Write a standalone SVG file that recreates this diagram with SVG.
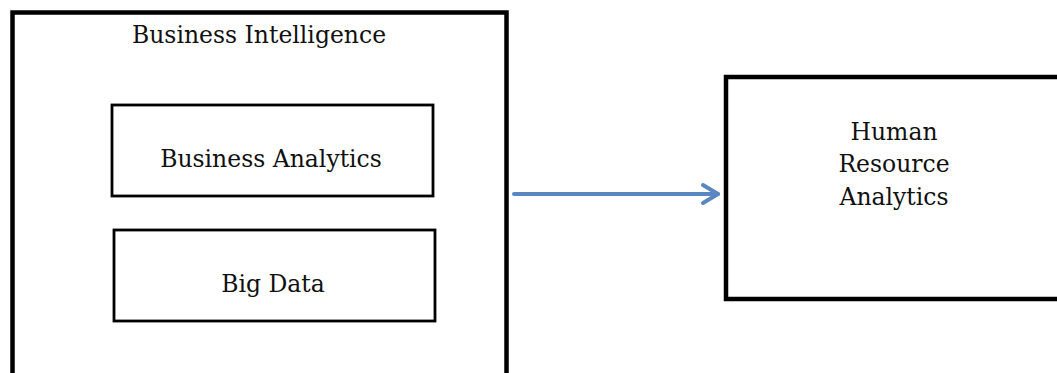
<svg xmlns="http://www.w3.org/2000/svg" width="1057" height="373" viewBox="0 0 1057 373">
  <style>
    .outer { fill: #ffffff; stroke: #000000; stroke-width: 4.5; }
    .inner { fill: #ffffff; stroke: #000000; stroke-width: 2.8; }
    .label { font-family: "DejaVu Serif", "Liberation Serif", serif; font-size: 23.5px; fill: #111111; text-anchor: middle; }
    .flow { stroke: #5b87c0; stroke-width: 4; fill: none; stroke-linecap: round; stroke-linejoin: round; }
  </style>
  <rect x="0" y="0" width="1057" height="373" fill="#ffffff"/>

  <g id="business-intelligence">
    <rect class="outer" x="12.5" y="12.5" width="494" height="370"/>
    <text class="label" x="259" y="43">Business Intelligence</text>
  </g>

  <g id="business-analytics">
    <rect class="inner" x="112" y="105" width="321" height="91"/>
    <text class="label" x="271" y="167">Business Analytics</text>
  </g>

  <g id="big-data">
    <rect class="inner" x="114" y="230" width="321" height="91"/>
    <text class="label" x="273" y="292">Big Data</text>
  </g>

  <g id="human-resource-analytics">
    <rect class="outer" x="726" y="77" width="345" height="222"/>
    <text class="label" x="894" y="140">Human</text>
    <text class="label" x="894" y="172">Resource</text>
    <text class="label" x="894" y="205">Analytics</text>
  </g>

  <g id="connectors">
    <line class="flow" x1="514" y1="194" x2="718" y2="194"/>
    <polyline class="flow" points="703,185 718,194 703,203" stroke-width="5"/>
  </g>
</svg>
